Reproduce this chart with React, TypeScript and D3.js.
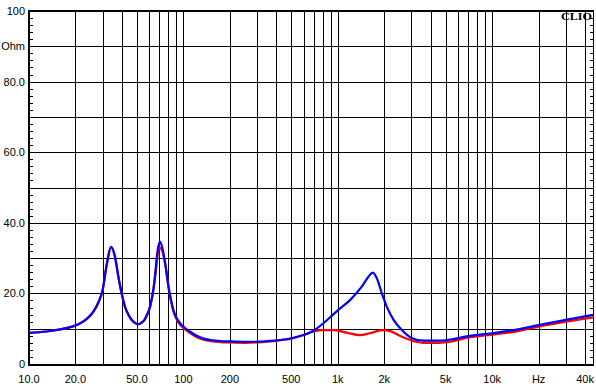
import React from 'react';
import * as d3 from 'd3';

// impedance curves (Hz, Ohm)
const blueFreq = [10, 13, 16, 18, 20, 22, 24, 26, 28, 30, 32, 34, 36, 38, 40, 42, 44, 46, 48, 51, 54, 56, 58, 61, 64, 66, 67.5, 70.5, 73, 75, 78, 80, 83, 86, 92, 100, 110, 122, 135, 150, 175, 200, 250, 300, 350, 420, 500, 600, 700, 800, 900, 1000, 1200, 1430, 1580, 1685, 1790, 1930, 2080, 2300, 2600, 3000, 3600, 4500, 5500, 7000, 10000, 15000, 20000, 30000, 45000];
const blueOhm = [8.8, 9.2, 9.8, 10.3, 10.9, 11.8, 13.0, 14.7, 17.2, 21.0, 28.6, 33.2, 30.5, 24.5, 19.6, 16.0, 14.0, 12.6, 11.8, 11.3, 11.8, 12.5, 13.8, 16.4, 21.4, 26.5, 31.0, 34.7, 33.0, 30.4, 25.5, 21.9, 18.3, 15.4, 12.5, 10.6, 9.2, 8.0, 7.2, 6.8, 6.5, 6.4, 6.3, 6.3, 6.5, 6.8, 7.3, 8.2, 9.5, 11.4, 13.4, 15.2, 18.1, 21.9, 24.7, 25.9, 24.3, 20.0, 16.2, 12.5, 9.6, 7.4, 6.6, 6.6, 7.0, 7.9, 8.7, 9.9, 11.0, 12.5, 13.9];

const redFreq = [10, 13, 16, 18, 20, 22, 24, 26, 28, 30, 32, 34, 36, 38, 40, 42, 44, 46, 48, 51, 54, 56, 58, 61, 64, 66, 67.5, 70, 73, 75, 78, 80, 83, 86, 92, 100, 110, 122, 135, 150, 175, 200, 250, 300, 350, 420, 500, 600, 700, 800, 940, 1140, 1390, 1610, 1930, 2190, 2540, 3035, 3600, 4500, 5500, 7000, 10000, 15000, 20000, 30000, 45000];
const redOhm = [8.8, 9.2, 9.8, 10.3, 10.9, 11.8, 13.0, 14.7, 17.2, 21.0, 28.6, 33.2, 30.5, 24.5, 19.6, 16.0, 14.0, 12.6, 11.8, 11.3, 11.8, 12.5, 13.8, 16.4, 21.0, 25.5, 29.5, 33.0, 32.0, 30.0, 25.5, 22.0, 18.0, 15.0, 12.0, 10.2, 8.8, 7.6, 6.9, 6.5, 6.2, 6.1, 6.0, 6.1, 6.3, 6.7, 7.2, 8.2, 9.2, 9.6, 9.6, 8.9, 8.2, 8.7, 9.6, 9.3, 7.9, 6.6, 6.0, 6.0, 6.4, 7.5, 8.3, 9.4, 10.6, 12.0, 13.2];

const xTickVals = [10, 20, 50, 100, 200, 500, 1000, 2000, 5000, 10000, 20000, 40000];
const xTickLabels = ['10.0', '20.0', '50.0', '100', '200', '500', '1k', '2k', '5k', '10k', 'Hz', '40k'];
const yTickVals = [100, 90, 80, 60, 40, 20, 0];
const yTickLabels = ['100', 'Ohm', '80.0', '60.0', '40.0', '20.0', '0'];

const W = 596, H = 390;
const left = 29, right = 593, top = 11, bottom = 364;

export default function App() {
  const x = d3.scaleLog().domain([10, 45000]).range([left, right]);
  const y = d3.scaleLinear().domain([0, 100]).range([bottom, top]);

  // vertical grid: 1-9 of each decade
  const vGrid: number[] = [];
  for (let d = 10; d <= 10000; d *= 10) {
    for (let m = 1; m <= 9; m++) {
      const f = d * m;
      if (f > 10 && f <= 40000) vGrid.push(f);
    }
  }
  const hGrid = d3.range(10, 100, 10);
  const minor = d3.range(0, 101, 2).filter((v) => v % 10 !== 0);

  const line = (fr: number[], oh: number[]) =>
    d3.line<number>()
      .x((d, i) => x(fr[i]))
      .y((d) => y(d))
      .curve(d3.curveMonotoneX)(oh) || '';

  const font = '"Liberation Sans", Arial, sans-serif';

  return (
    <svg width={W} height={H} style={{ position: 'absolute', left: 0, top: 0, background: '#fff' }}>
      <rect x={0} y={0} width={W} height={H} fill="#fff" />
      <g stroke="#000" strokeWidth={1} shapeRendering="crispEdges">
        {vGrid.map((f) => (
          <line key={'v' + f} x1={Math.round(x(f)) + 0.5} x2={Math.round(x(f)) + 0.5} y1={top} y2={bottom} />
        ))}
        {hGrid.map((v) => (
          <line key={'h' + v} x1={left} x2={right} y1={Math.round(y(v)) + 0.5} y2={Math.round(y(v)) + 0.5} />
        ))}
        {minor.map((v) => (
          <g key={'m' + v}>
            <line x1={left} x2={left + 4} y1={Math.round(y(v)) + 0.5} y2={Math.round(y(v)) + 0.5} />
            <line x1={right - 3} x2={right} y1={Math.round(y(v)) + 0.5} y2={Math.round(y(v)) + 0.5} />
          </g>
        ))}
        <line x1={right + 0.5} x2={right + 0.5} y1={top} y2={bottom} />
      </g>
      <g stroke="#000" strokeWidth={2} shapeRendering="crispEdges">
        <line x1={left - 1} x2={right + 1} y1={top} y2={top} />
        <line x1={left - 1} x2={right + 1} y1={bottom + 1} y2={bottom + 1} />
        <line x1={left} x2={left} y1={top - 1} y2={bottom + 2} />
      </g>

      <path d={line(redFreq, redOhm)} fill="none" stroke="#ff0000" strokeWidth={2.2} />
      <path d={line(blueFreq, blueOhm)} fill="none" stroke="#0000ff" strokeWidth={2.2} />

      <g fontFamily={font} fontSize={11} fill="#000">
        {yTickVals.map((v, i) => (
          <text key={'yl' + i} x={25} y={y(v) + 4} textAnchor="end">{yTickLabels[i]}</text>
        ))}
        {xTickVals.map((f, i) => (
          <text key={'xl' + i} x={x(f)} y={383} textAnchor="middle">{xTickLabels[i]}</text>
        ))}
      </g>
      <text x={561} y={19.5} fontFamily='"Liberation Serif", serif' fontWeight="bold" fontSize={10.5}
        textLength={31} lengthAdjust="spacingAndGlyphs" fill="#000">CLIO</text>
    </svg>
  );
}
